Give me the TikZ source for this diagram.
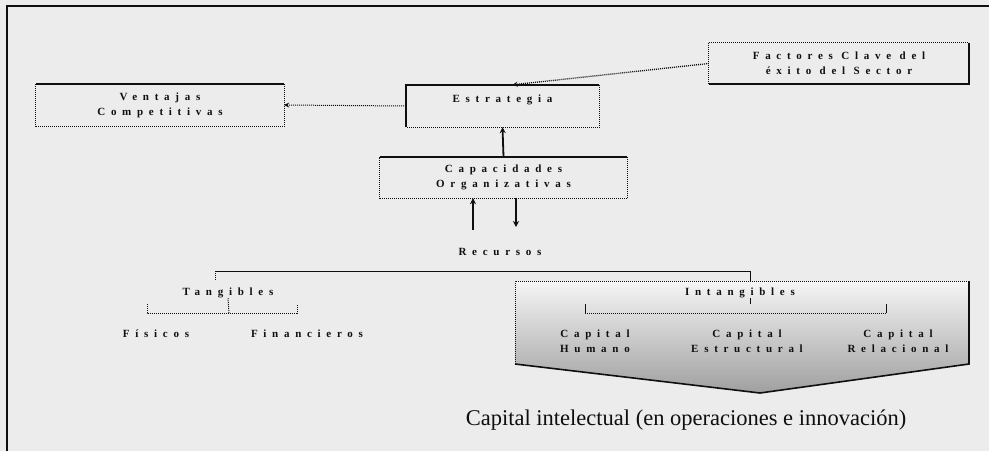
\documentclass[tikz,border=0pt]{standalone}
\usepackage{fontspec}
\setmainfont{Liberation Serif}
\newfontfamily\spaced[LetterSpace=52]{Liberation Serif}
\usetikzlibrary{arrows.meta}
\definecolor{bg}{RGB}{236,236,236}
\definecolor{ink}{RGB}{15,15,15}
\begin{document}
\begin{tikzpicture}[x=1pt,y=-1pt,
  lbl/.style={font=\spaced\bfseries\fontsize{11}{15}\selectfont, text=ink, inner sep=0pt, align=center},
  boxn/.style={lbl, minimum width=#1, draw=none},
  dotline/.style={dash pattern=on 1pt off 1pt, line width=1pt, draw=ink},
  solidedge/.style={line width=1.6pt, draw=ink},
  thinsolid/.style={line width=1pt, draw=ink},
  arr/.style={-{Stealth[length=5pt,width=5pt]}},
  bigarr/.style={line width=1.8pt, draw=ink, -{Stealth[length=6pt,width=6pt]}}
]
\useasboundingbox (0,0) rectangle (989,451);
\fill[bg] (0,0) rectangle (989,451);
% frame
\draw[line width=2pt, draw=ink] (7,451) -- (7,6) -- (989,6);

% boxes
\node[boxn=248pt, minimum height=42pt] (vent) at (160,105) {Ventajas\\Competitivas};
\node[boxn=193pt, minimum height=42pt] (estr) at (502.5,106) {Estrategia\\~};
\node[boxn=247pt, minimum height=41pt] (cap) at (503.5,177.5) {Capacidades\\Organizativas};
\node[boxn=260pt, minimum height=41pt] (fact) at (839,63.5) {Factores Clave del\\éxito del Sector};

% box edges
\draw[dotline] (vent.north east) -- (vent.south east) -- (vent.south west) -- (vent.north west);
\draw[solidedge] (vent.north west) -- (vent.north east);
\draw[dotline] (estr.north east) -- (estr.south east) -- (estr.south west);
\draw[solidedge] (estr.south west) -- (estr.north west) -- (estr.north east);
\draw[dotline] (cap.north east) -- (cap.south east) -- (cap.south west) -- (cap.north west);
\draw[solidedge] (cap.north west) -- (cap.north east);
\draw[dotline] (fact.south west) -- (fact.north west) -- (fact.north east);
\draw[solidedge] (fact.north east) -- (fact.south east) -- (fact.south west);

% connectors
\draw[dotline, arr] (estr.west) -- (vent.east);
\coordinate (estrIn) at ([xshift=10pt]estr.north);
\draw[dotline, line width=1.3pt, arr] (fact.west) -- (estrIn);
\draw[bigarr] (cap.north) -- (estr.south);

\node[lbl] (rec) at (500,252) {Recursos};
\coordinate (upS) at (473,230);
\coordinate (dnE) at (516,227);
\draw[bigarr] (upS) -- (upS |- cap.south);
\draw[bigarr] (dnE |- cap.south) -- (dnE);

% intangibles shape
\coordinate (iTL) at (515,281);
\coordinate (iTR) at (969,281);
\coordinate (iBR) at (969,364);
\coordinate (iP) at (760,393);
\coordinate (iBL) at (515,364);
\shade[top color=bg!50!white, bottom color=gray!75] (iTL) -- (iTR) -- (iBR) -- (iP) -- (iBL) -- cycle;
\draw[dotline] (iBL) -- (iTL) -- (iTR);
\draw[solidedge] (iTR) -- (iBR) -- (iP) -- (iBL);

% tree from Recursos
\coordinate (rL) at (215,271);
\coordinate (rR) at (750,271);
\draw[thinsolid] (rL) -- (rR) -- (rR |- iTL);
\draw[dotline] (rL) -- ++(0,9);

\node[lbl] (tang) at (228,293) {Tangibles};
\node[lbl] (fis) at (156,334) {Físicos};
\node[lbl] (fin) at (307,334) {Financieros};
\coordinate (tB) at (229,313);
\coordinate (tL) at (147,313);
\coordinate (tR) at (297,313);
\draw[dotline] (tang.south) -- (tB);
\draw[dotline] ([yshift=9pt]tL) -- (tL) -- (tR) -- ([yshift=9pt]tR);

\node[lbl] (intg) at (740,293) {Intangibles};
\node[lbl] (ch) at (595,341) {Capital\\Humano};
\node[lbl] (ce) at (747,341) {Capital\\Estructural};
\node[lbl] (cr) at (898,341) {Capital\\Relacional};
\coordinate (iB) at (750,313);
\coordinate (iL) at (585,313);
\coordinate (iR) at (886,313);
\draw[thinsolid] (iB |- intg.south) -- ([yshift=9pt]iB);
\draw[dotline] (iL) -- (iR);
\draw[thinsolid] (iL) -- ([yshift=9pt]iL);
\draw[thinsolid] (iR) -- ([yshift=9pt]iR);

\node[font=\fontsize{22.5}{26}\selectfont, text=ink, inner sep=0pt] (ci) at (686,420) {Capital intelectual (en operaciones e innovación)};
\end{tikzpicture}
\end{document}
